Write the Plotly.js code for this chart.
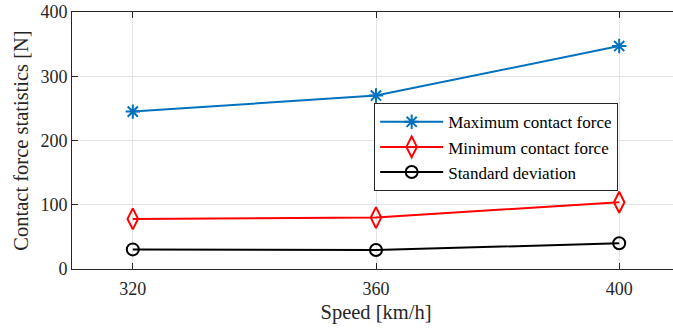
<!DOCTYPE html>
<html><head><meta charset="utf-8">
<script src="https://cdn.plot.ly/plotly-3.0.1.min.js"></script>
<style>html,body{margin:0;padding:0;overflow:hidden;background:#fff}#chart{width:680px;height:329px}</style>
</head><body><div id="chart"></div>
<script>
const speeds = [320, 360, 400];
const maxForce = [245, 270, 347];
const minForce = [78, 80, 104];
const stdDev = [30.5, 29.5, 40];
const seriesNames = ['Maximum contact force', 'Minimum contact force', 'Standard deviation'];
const xTicks = [320, 360, 400];
const yTicks = [0, 100, 200, 300, 400];
const xTitle = 'Speed [km/h]';
const yTitle = 'Contact force statistics [N]';

const FONT = 'Liberation Serif, Times New Roman, serif';
const traces = [
  {x: speeds, y: maxForce, name: seriesNames[0], mode: 'lines+markers',
   line: {color: '#0072BD', width: 2},
   marker: {symbol: 'asterisk-open', size: 12, color: '#0072BD', line: {color: '#0072BD', width: 2}}},
  {x: speeds, y: minForce, name: seriesNames[1], mode: 'lines+markers',
   line: {color: '#FF0000', width: 2},
   marker: {symbol: 'diamond-tall-open', size: 15, color: '#FF0000', line: {color: '#FF0000', width: 2}}},
  {x: speeds, y: stdDev, name: seriesNames[2], mode: 'lines+markers',
   line: {color: '#000000', width: 2},
   marker: {symbol: 'circle-open', size: 12, color: '#000000', line: {color: '#000000', width: 2}}}
];
const axisCommon = {
  showline: true, linecolor: '#262626', linewidth: 1,
  ticks: 'inside', ticklen: 6, tickwidth: 1, tickcolor: '#262626',
  showgrid: true, gridcolor: '#e3e3e3', gridwidth: 1,
  zeroline: false, tickfont: {family: FONT, size: 18, color: '#262626'}
};
const layout = {
  width: 680, height: 329,
  margin: {l: 72, r: 0, t: 12, b: 60},
  paper_bgcolor: '#fff', plot_bgcolor: '#fff',
  font: {family: FONT, color: '#262626'},
  showlegend: true,
  xaxis: Object.assign({}, axisCommon, {
    range: [310, 410], tickmode: 'array', tickvals: xTicks, ticktext: xTicks.map(String),
    mirror: 'ticks', ticklabelstandoff: 3,
    title: {text: xTitle, font: {family: FONT, size: 20.5, color: '#262626'}, standoff: 7}
  }),
  yaxis: Object.assign({}, axisCommon, {
    range: [0, 400], tickmode: 'array', tickvals: yTicks, ticktext: yTicks.map(String),
    mirror: false,
    title: {text: yTitle, font: {family: FONT, size: 20.5, color: '#262626'}, standoff: 6}
  }),
  legend: {
    x: 0.497, y: 0.645, xanchor: 'left', yanchor: 'top',
    bgcolor: '#ffffff', bordercolor: '#262626', borderwidth: 1,
    font: {family: FONT, size: 17, color: '#000'},
    itemwidth: 63
  }
};
Plotly.newPlot('chart', traces, layout, {displayModeBar: false, staticPlot: true});
</script></body></html>
